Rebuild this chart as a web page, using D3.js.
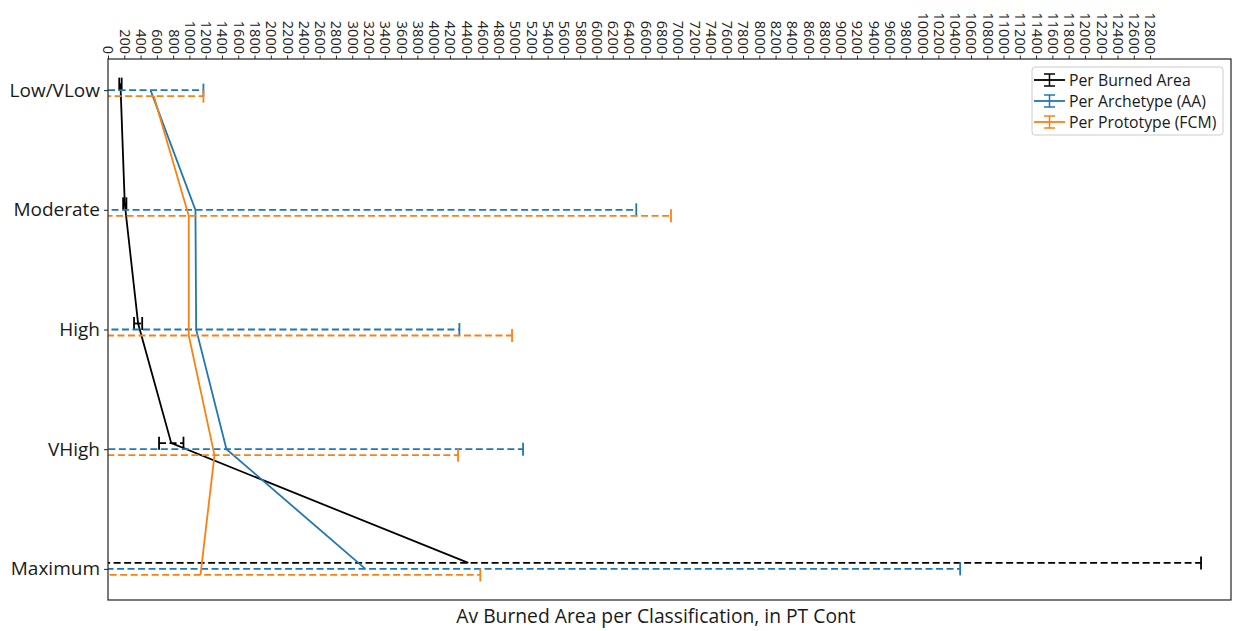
<!DOCTYPE html>
<html>
<head>
<meta charset="utf-8">
<script src="https://cdn.jsdelivr.net/npm/d3@7"></script>
<style>
  body { margin: 0; background: #fff; }
  svg { font-family: "Open Sans", sans-serif; }
</style>
</head>
<body>
<svg id="chart" width="1237" height="631"></svg>
<script>
// categories, top to bottom
var categories = ["Low/VLow", "Moderate", "High", "VHigh", "Maximum"];

// mean value and error per category for each series
var burnedMean = [153, 206, 370, 777, 4426];
var burnedErr = [15, 20, 50, 150, 9000];
var archetypeMean = [522, 1074, 1083, 1455, 3161];
var archetypeErr = [650, 5415, 3233, 3643, 7306];
var prototypeMean = [562, 992, 992, 1308, 1136];
var prototypeErr = [610, 5923, 3971, 2992, 3437];

var xTicks = d3.range(0, 12801, 200);

var seriesNames = ["Per Burned Area", "Per Archetype (AA)", "Per Prototype (FCM)"];

const svg = d3.select("#chart");

const margin = { top: 59, right: 6, bottom: 31, left: 108 };
const width = +svg.attr("width");
const height = +svg.attr("height");

const x = d3.scaleLinear()
  .domain([0, 13794])
  .range([margin.left, width - margin.right]);

const y = d3.scaleLinear()
  .domain([-0.26, 4.26])
  .range([margin.top, height - margin.bottom]);

const series = [
  { name: seriesNames[0], mean: burnedMean, err: burnedErr, color: "#000000", off: -0.05 },
  { name: seriesNames[1], mean: archetypeMean, err: archetypeErr, color: "#1f77b4", off: 0 },
  { name: seriesNames[2], mean: prototypeMean, err: prototypeErr, color: "#ff7f0e", off: 0.05 },
];

svg.append("defs").append("clipPath").attr("id", "plotClip")
  .append("rect")
  .attr("x", margin.left)
  .attr("y", margin.top)
  .attr("width", width - margin.right - margin.left)
  .attr("height", height - margin.bottom - margin.top);

const plot = svg.append("g").attr("clip-path", "url(#plotClip)");
const capHalf = 6.5;

series.forEach((s) => {
  const pts = categories.map((c, i) => ({ v: s.mean[i], e: s.err[i], yy: i + s.off }));
  const g = plot.append("g");

  g.append("path")
    .datum(pts)
    .attr("fill", "none")
    .attr("stroke", s.color)
    .attr("stroke-width", 1.8)
    .attr("d", d3.line().x((d) => x(d.v)).y((d) => y(d.yy)));

  g.selectAll(".bar")
    .data(pts)
    .enter().append("line")
    .attr("x1", (d) => x(d.v - d.e))
    .attr("x2", (d) => x(d.v + d.e))
    .attr("y1", (d) => y(d.yy))
    .attr("y2", (d) => y(d.yy))
    .attr("stroke", s.color)
    .attr("stroke-width", 1.8)
    .attr("stroke-dasharray", "7,3.5");

  [-1, 1].forEach((sign) => {
    g.selectAll(".cap" + sign)
      .data(pts)
      .enter().append("line")
      .attr("x1", (d) => x(d.v + sign * d.e))
      .attr("x2", (d) => x(d.v + sign * d.e))
      .attr("y1", (d) => y(d.yy) - capHalf)
      .attr("y2", (d) => y(d.yy) + capHalf)
      .attr("stroke", s.color)
      .attr("stroke-width", 1.8);
  });
});

// frame
svg.append("rect")
  .attr("x", margin.left)
  .attr("y", margin.top)
  .attr("width", width - margin.right - margin.left)
  .attr("height", height - margin.bottom - margin.top)
  .attr("fill", "none")
  .attr("stroke", "#222")
  .attr("stroke-width", 1.2);

// top axis
const xAxis = svg.append("g")
  .attr("transform", "translate(0," + margin.top + ")")
  .call(d3.axisTop(x).tickValues(xTicks).tickSize(3.5).tickSizeOuter(0).tickFormat(d3.format("d")));
xAxis.select(".domain").remove();
xAxis.selectAll("line").attr("stroke", "#222");
xAxis.selectAll("text")
  .attr("x", 0)
  .attr("y", 0)
  .attr("dy", "0.35em")
  .attr("transform", "translate(0,-5) rotate(90)")
  .style("text-anchor", "end")
  .style("font-size", "14.5px")
  .style("font-family", "Open Sans")
  .attr("fill", "#222");

// left axis
const yAxis = svg.append("g")
  .attr("transform", "translate(" + margin.left + ",0)")
  .call(d3.axisLeft(y).tickValues(d3.range(categories.length)).tickSize(4).tickSizeOuter(0)
    .tickFormat((d) => categories[d]));
yAxis.select(".domain").remove();
yAxis.selectAll("line").attr("stroke", "#222");
yAxis.selectAll("text")
  .attr("x", -8)
  .style("font-size", "19px")
  .style("font-family", "Open Sans")
  .attr("fill", "#1a1a1a");

// x label
svg.append("text")
  .attr("x", 656)
  .attr("y", 623)
  .attr("text-anchor", "middle")
  .style("font-size", "19.3px")
  .attr("fill", "#1a1a1a")
  .text("Av Burned Area per Classification, in PT Cont");

// legend
const legend = svg.append("g").attr("transform", "translate(1032,67)");
legend.append("rect")
  .attr("width", 191)
  .attr("height", 68)
  .attr("rx", 3)
  .attr("fill", "#fff")
  .attr("fill-opacity", 0.8)
  .attr("stroke", "#ccc");

series.forEach((s, i) => {
  const row = legend.append("g").attr("transform", "translate(0," + (13 + i * 21) + ")");
  row.append("line").attr("x1", 2).attr("x2", 33).attr("y1", 0).attr("y2", 0)
    .attr("stroke", s.color).attr("stroke-width", 1.8);
  row.append("line").attr("x1", 17.5).attr("x2", 17.5).attr("y1", -6).attr("y2", 6)
    .attr("stroke", s.color).attr("stroke-width", 1.5);
  [-6, 6].forEach((dy) => {
    row.append("line").attr("x1", 12).attr("x2", 23).attr("y1", dy).attr("y2", dy)
      .attr("stroke", s.color).attr("stroke-width", 1.5);
  });
  row.append("text")
    .attr("x", 37)
    .attr("y", 0)
    .attr("dy", "0.35em")
    .style("font-size", "15.8px")
    .attr("fill", "#1a1a1a")
    .text(s.name);
});
</script>
</body>
</html>
